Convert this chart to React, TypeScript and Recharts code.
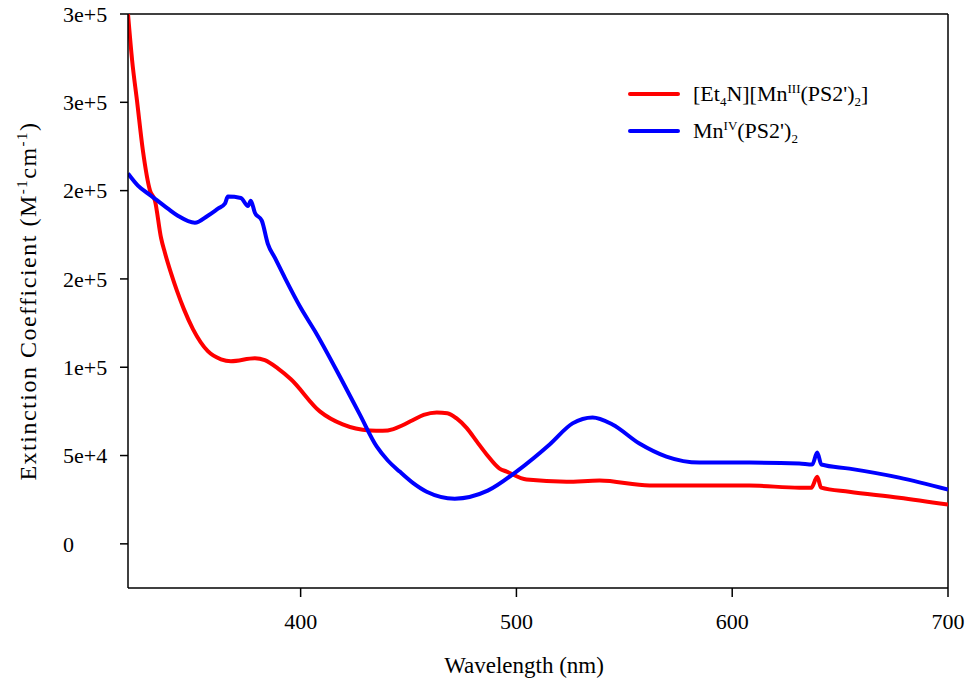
import { Line, LineChart, ReferenceLine, XAxis, YAxis } from 'recharts';

const FONT = '"Liberation Serif", "Times New Roman", serif';

// wavelength (nm) / extinction coefficient
const redWl = [320, 321.9, 324.2, 326.9, 330.2, 332.5, 335.3, 337.1, 339.9, 342.7, 345.9, 350.1, 357, 363.1, 367.7, 378.8, 383.4, 389.4, 395.5, 408.9, 419.5, 432, 438, 443, 447, 451.9, 457, 463.1, 468, 472.3, 477, 481.6, 486.2, 492.2, 495.5, 504.7, 523.2, 538.5, 561.7, 584.8, 608, 631.1, 636.7, 639.4, 641.2, 654.2, 677.4, 700];
const redVal = [300000, 273900, 250600, 222700, 200000, 194300, 173300, 164800, 153400, 143200, 132900, 121600, 109100, 104500, 103400, 105100, 104000, 99400, 93200, 75000, 67600, 64200, 64000, 65000, 67000, 70000, 73000, 74400, 74000, 71000, 65500, 58000, 50600, 42600, 40900, 36400, 35200, 35800, 33000, 33000, 33000, 31800, 31800, 38000, 31800, 29500, 26100, 22200];

const blueWl = [320, 324.6, 330.6, 338.5, 343.1, 351, 357, 361.7, 364.9, 366.3, 372.3, 375.6, 376.9, 378.8, 382, 384.8, 388.1, 392.7, 400.1, 406.6, 418.6, 427.4, 435.3, 440.4, 445.9, 452, 458.4, 471.4, 486.7, 500.6, 515.4, 526, 535.3, 544.5, 557, 569.5, 584.8, 608, 631.1, 637.1, 639.4, 641.3, 654.3, 677.4, 700];
const blueVal = [209700, 202800, 197200, 189800, 185800, 181800, 185800, 189800, 192600, 196600, 195800, 191300, 194300, 187500, 183000, 169900, 161900, 150600, 133500, 120500, 93750, 73300, 55000, 47200, 40900, 34500, 29500, 25600, 30100, 41500, 56300, 68200, 71600, 67600, 56800, 49400, 46000, 46000, 45500, 44900, 51700, 44900, 42600, 37500, 30700];

const xTicks = [400, 500, 600, 700];
const yTicks = [0, 50000, 100000, 150000, 200000, 250000, 300000];
const yTickLabels = ['0', '5e+4', '1e+5', '2e+5', '2e+5', '3e+5', '3e+5'];

const redData = redWl.map((wl, i) => ({ wl, v: redVal[i] }));
const blueData = blueWl.map((wl, i) => ({ wl, v: blueVal[i] }));

function YTick({ x, y, payload }: any) {
  const i = yTicks.indexOf(payload.value);
  return (
    <text x={x - 55} y={y} dy="0.35em" textAnchor="start" fontFamily={FONT} fontSize={22} fill="#000">
      {yTickLabels[i]}
    </text>
  );
}

function XTick({ x, y, payload }: any) {
  return (
    <text x={x} y={y} dy="0.71em" textAnchor="middle" fontFamily={FONT} fontSize={22} fill="#000">
      {payload.value}
    </text>
  );
}

function YTitle({ viewBox }: any) {
  const cx = viewBox.x - 22;
  const cy = viewBox.y + viewBox.height / 2;
  return (
    <text
      x={cx}
      y={cy}
      transform={`rotate(-90 ${cx} ${cy})`}
      textAnchor="middle"
      fontFamily={FONT}
      fontSize={24}
      letterSpacing={1.5}
      fill="#000"
    >
      Extinction Coefficient (M
      <tspan dy={-9} fontSize={15}>-1</tspan>
      <tspan dy={9}>cm</tspan>
      <tspan dy={-9} fontSize={15}>-1</tspan>
      <tspan dy={9}>)</tspan>
    </text>
  );
}

function LegendBox() {
  const row = { display: 'flex', alignItems: 'center', height: 37 } as const;
  const swatch = (c: string) => (
    <span style={{ display: 'inline-block', width: 52, height: 4, borderRadius: 2, background: c, marginRight: 13 }} />
  );
  const sup = { fontSize: 13, verticalAlign: 'super', lineHeight: 0 } as const;
  const sub = { fontSize: 13, verticalAlign: 'sub', lineHeight: 0 } as const;
  return (
    <div style={{ position: 'absolute', left: 628, top: 75, fontFamily: FONT, fontSize: 22, color: '#000' }}>
      <div style={row}>
        {swatch('#ff0000')}
        <span>
          [Et<span style={sub}>4</span>N][Mn<span style={sup}>III</span>(PS2')<span style={sub}>2</span>]
        </span>
      </div>
      <div style={row}>
        {swatch('#0000ff')}
        <span>
          Mn<span style={sup}>IV</span>(PS2')<span style={sub}>2</span>
        </span>
      </div>
    </div>
  );
}

export default function App() {
  return (
    <div style={{ position: 'absolute', left: 0, top: 0, width: 969, height: 686, background: '#fff' }}>
      <LineChart width={969} height={686} margin={{ top: 14, right: 21, left: 58, bottom: 38 }}>
        <XAxis
          type="number"
          dataKey="wl"
          domain={[320, 700]}
          ticks={xTicks}
          allowDataOverflow
          tickSize={9}
          tickMargin={16}
          height={60}
          stroke="#000"
          strokeWidth={1.5}
          tick={<XTick />}
          label={{
            value: 'Wavelength (nm)',
            position: 'insideBottom',
            offset: -25,
            fontFamily: FONT,
            fontSize: 23,
            fill: '#000',
            dx: -14,
          }}
        />
        <YAxis
          type="number"
          domain={[-25000, 300000]}
          ticks={yTicks}
          allowDataOverflow
          width={70}
          tickSize={8}
          tickMargin={2}
          stroke="#000"
          strokeWidth={1.5}
          tick={<YTick />}
          label={<YTitle />}
        />
        <ReferenceLine y={300000} stroke="#000" strokeWidth={1.5} />
        <ReferenceLine x={700} stroke="#000" strokeWidth={1.5} />
        <Line
          data={redData}
          dataKey="v"
          type="monotone"
          stroke="#ff0000"
          strokeWidth={4}
          dot={false}
          isAnimationActive={false}
        />
        <Line
          data={blueData}
          dataKey="v"
          type="monotone"
          stroke="#0000ff"
          strokeWidth={4}
          dot={false}
          isAnimationActive={false}
        />
      </LineChart>
      <LegendBox />
    </div>
  );
}
